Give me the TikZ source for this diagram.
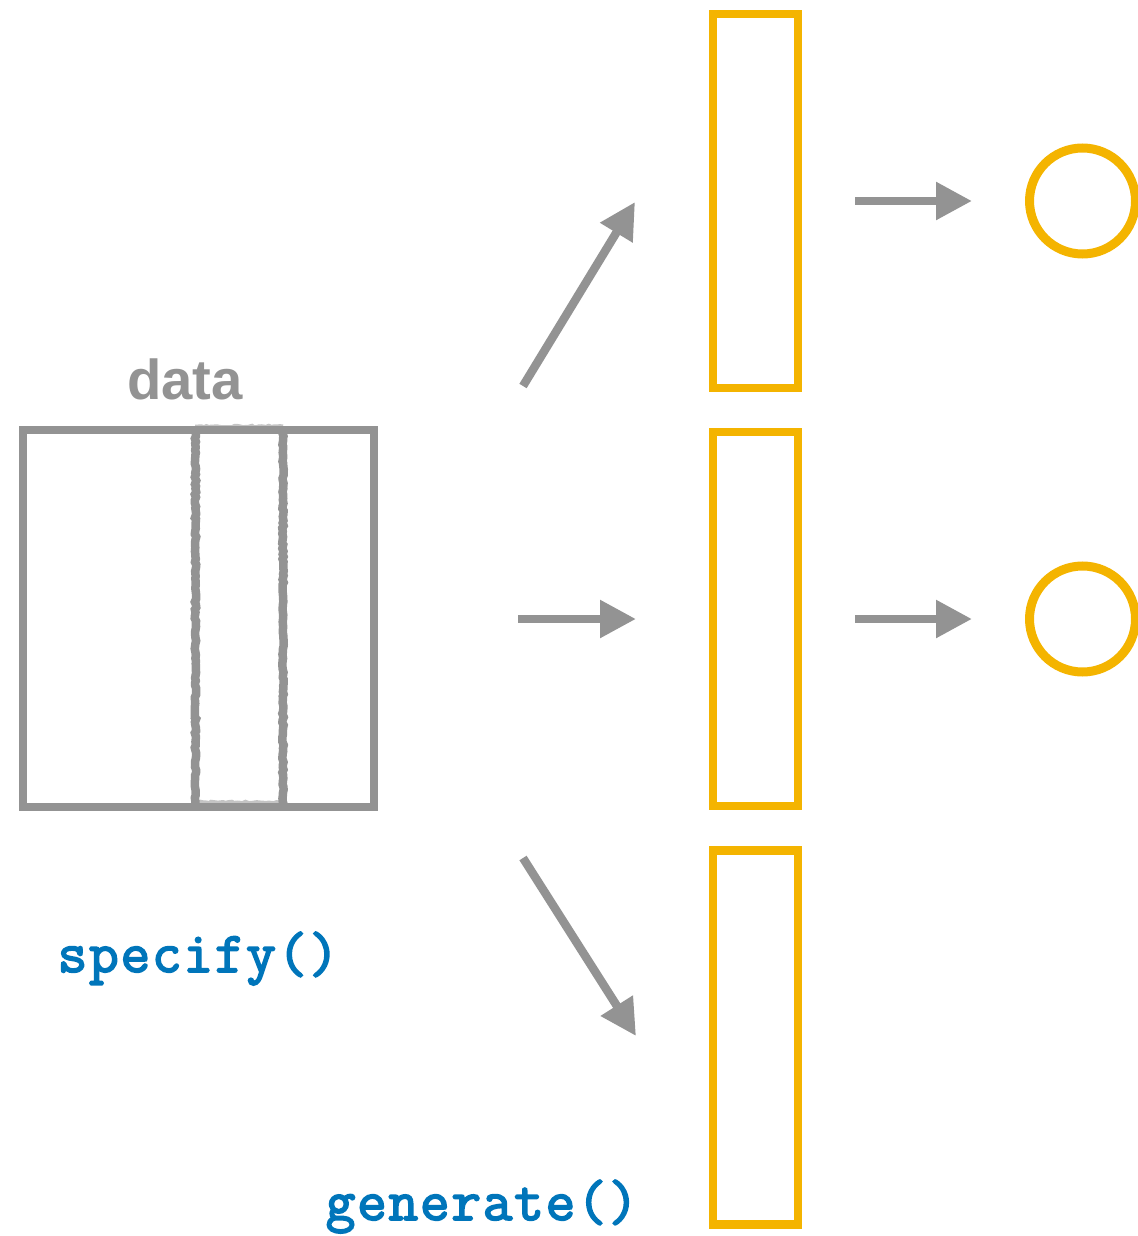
\documentclass[tikz,border=0pt]{standalone}
\usepackage{fontspec}
\setmainfont{Liberation Sans}
\newfontfamily\codefont{Latin Modern Mono}[FakeBold=3, LetterSpace=3]
\usetikzlibrary{arrows.meta,decorations.pathmorphing}
\definecolor{frame}{HTML}{939393}
\definecolor{sample}{HTML}{F4B400}
\definecolor{code}{HTML}{0075BA}
\tikzset{
  databox/.style = {draw=frame, line width=0.8mm, inner sep=0pt,
    minimum width=3.51cm, minimum height=3.77cm},
  column/.style = {draw=frame, line width=0.85mm, decorate,
    decoration={random steps, segment length=0.8pt, amplitude=0.22pt}},
  resample/.style = {draw=sample, line width=0.85mm, inner sep=0pt,
    minimum width=0.85cm, minimum height=3.74cm},
  stat/.style = {circle, draw=sample, line width=0.9mm, inner sep=0pt,
    minimum size=1.06cm},
  flow/.style = {draw=frame, line width=0.85mm,
    -{Triangle[length=3.6mm, width=3.6mm]}},
  title/.style = {text=frame, inner sep=0pt, anchor=base,
    font=\bfseries\fontsize{16}{19}\selectfont},
  fn/.style = {text=code, inner sep=0pt, anchor=base west,
    font=\codefont\fontsize{16.4}{20}\selectfont}
}

\begin{document}
\begin{tikzpicture}
    \useasboundingbox (0,0) rectangle (11.38,-12.36);

    % the data set and the column that is picked
    \draw [column, draw=frame!55, line width=0.5mm] (1.95,-4.27) -- (2.83,-4.27);
    \draw [column, draw=frame!55, line width=0.5mm] (1.95,-8.03) -- (2.83,-8.03);
    \node [databox] (data) at (1.985,-6.185) {};
    \draw [column] (1.955,-4.30) -- (1.955,-8.06);
    \draw [column] (2.83,-4.30) -- (2.83,-8.06);
    \node [title] (datatitle) at (1.85,-4.0) {data};

    % resampled columns
    \node [resample] (s1) at (7.555,-2.01) {};
    \node [resample] (s2) at (7.555,-6.19) {};
    \node [resample] (s3) at (7.555,-10.375) {};

    % one statistic per resample
    \node [stat] (t1) at (10.825,-2.01) {};
    \node [stat] (t2) at (10.825,-6.19) {};

    \coordinate (up0) at (5.23,-3.86);
    \coordinate (up1) at (6.35,-2.02);
    \coordinate (mid0) at (5.18,-6.19);
    \coordinate (mid1) at (6.36,-6.19);
    \coordinate (dn0) at (5.23,-8.58);
    \coordinate (dn1) at (6.36,-10.36);
    \coordinate (r10) at (8.55,-2.01);
    \coordinate (r11) at (9.72,-2.01);
    \coordinate (r20) at (8.55,-6.19);
    \coordinate (r21) at (9.72,-6.19);

    \draw [flow] (up0) -- (up1);
    \draw [flow] (mid0) -- (mid1);
    \draw [flow] (dn0) -- (dn1);
    \draw [flow] (r10) -- (r11);
    \draw [flow] (r20) -- (r21);

    \node [fn] (specify) at (0.57,-9.72) {specify()};
    \node [fn] (generate) at (3.25,-12.20) {generate()};
\end{tikzpicture}
\end{document}
